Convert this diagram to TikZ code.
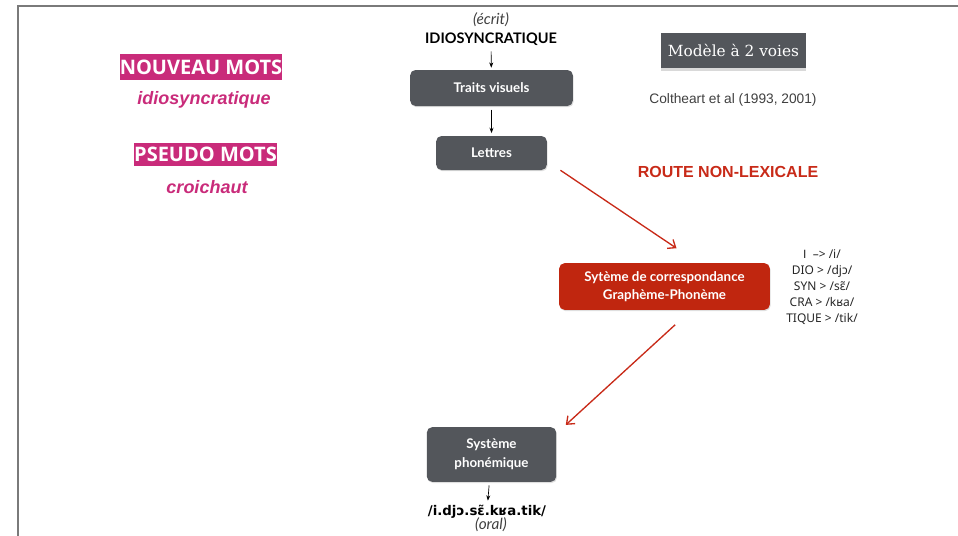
\documentclass[tikz,border=0pt]{standalone}
\usepackage{fontspec}
\setmainfont{Lato}
\newfontfamily\helv{Liberation Sans}
\newfontfamily\tagfont{Open Sans}
\newfontfamily\ipa{Noto Sans}
\newfontfamily\ipabold{DejaVu Sans}
\newfontfamily\slab{DejaVu Serif}
\usetikzlibrary{arrows.meta,shadows}

\definecolor{boxgray}{HTML}{53565B}
\definecolor{gpcred}{HTML}{C0260F}
\definecolor{arrowred}{HTML}{C82A18}
\definecolor{tagpink}{HTML}{C92B7A}
\definecolor{framegray}{HTML}{7A7A7A}

\begin{document}
\begin{tikzpicture}[x=0.75pt,y=-0.75pt,
  greybox/.style={fill=boxgray, rounded corners=4pt, text=white, align=center,
    font=\bfseries\fontsize{10}{14}\selectfont,
    drop shadow={opacity=0.25,shadow xshift=0.6pt,shadow yshift=-0.9pt}},
  redbox/.style={greybox, fill=gpcred},
  tagbox/.style={fill=tagpink, text=white, inner sep=0pt,
    font=\tagfont\bfseries\fontsize{15}{17}\selectfont},
  tagword/.style={text=tagpink, font=\helv\bfseries\itshape\fontsize{13.5}{15}\selectfont},
  mode/.style={text=black!75, font=\itshape\fontsize{11.5}{13}\selectfont},
  blackarrow/.style={-{Stealth[length=4pt,width=3pt]}, line width=0.5pt},
  redarrow/.style={-{Straight Barb[length=5pt,width=8pt]}, draw=arrowred, line width=1pt}]
\useasboundingbox (0,0) rectangle (958,536);
\draw[framegray, line width=1.4pt] (18,536) -- (18,6) -- (958,6);

% voie lexicale / non-lexicale
\node[mode] (ecrit) at (491,20) {(écrit)};
\node (title) at (491,39) {\bfseries\fontsize{10.9}{13}\selectfont IDIOSYNCRATIQUE};
\node[greybox, minimum width=122pt, minimum height=27pt] (traits) at (491.5,88) {Traits visuels};
\node[greybox, minimum width=83pt, minimum height=25.5pt] (lettres) at (491.5,153) {Lettres};
\node[redbox, minimum width=158pt, minimum height=35pt] (gpc) at (664.5,286.5)
  {Sytème de correspondance\\Graphème-Phonème};
\node[greybox, minimum width=97pt, minimum height=41pt] (phon) at (491.5,454.5)
  {Système\\phonémique};
\node (sortie) at (487,512) {\ipabold\bfseries\fontsize{10}{12}\selectfont /i.djɔ.sɛ̃.kʁa.tik/};
\node[mode] (oral) at (491,525) {(oral)};

\draw[blackarrow, shorten <=1pt, shorten >=1.5pt] (title) -- (traits);
\draw[blackarrow, shorten <=2.5pt, shorten >=2pt] (traits) -- (lettres);
\draw[blackarrow, shorten <=2.5pt, shorten >=0pt] (phon) -- (sortie);
\draw[redarrow] ([xshift=10pt]lettres.south east) -- ([xshift=9pt,yshift=11pt]gpc.north);
\draw[redarrow] ([xshift=8pt,yshift=-11pt]gpc.south) -- ([xshift=7pt,yshift=1.5pt]phon.north east);

\node[text=arrowred, font=\helv\bfseries\fontsize{12}{14}\selectfont] (route) at (728,172) {ROUTE NON-LEXICALE};
\node[align=center, text=black!85, font=\ipa\fontsize{9}{12}\selectfont] (regles) at (822,287.5)
  {{\helv I}~~–> /i/\\DIO > /djɔ/\\SYN > /sɛ̃/\\CRA > /kʁa/\\TIQUE > /tik/};

% stimuli
\node[tagbox, minimum width=121.5pt, minimum height=19.5pt] (nouveau) at (201,67) {NOUVEAU MOTS};
\node[tagword] (idio) at (204,100) {idiosyncratique};
\node[tagbox, minimum width=107pt, minimum height=17pt] (pseudo) at (205.5,154.5) {PSEUDO MOTS};
\node[tagword] (croichaut) at (207,187) {croichaut};

% titre du modele
\node[fill=boxgray, text=white, minimum width=109pt, minimum height=26pt,
  font=\slab\fontsize{11.5}{13}\selectfont,
  drop shadow={opacity=0.3,shadow xshift=0pt,shadow yshift=-2pt}] (modele) at (733.5,50.5) {Modèle à 2 voies};
\node[text=black!75, font=\helv\fontsize{10.3}{12}\selectfont] (source) at (733,100) {Coltheart et al (1993, 2001)};
\end{tikzpicture}
\end{document}
